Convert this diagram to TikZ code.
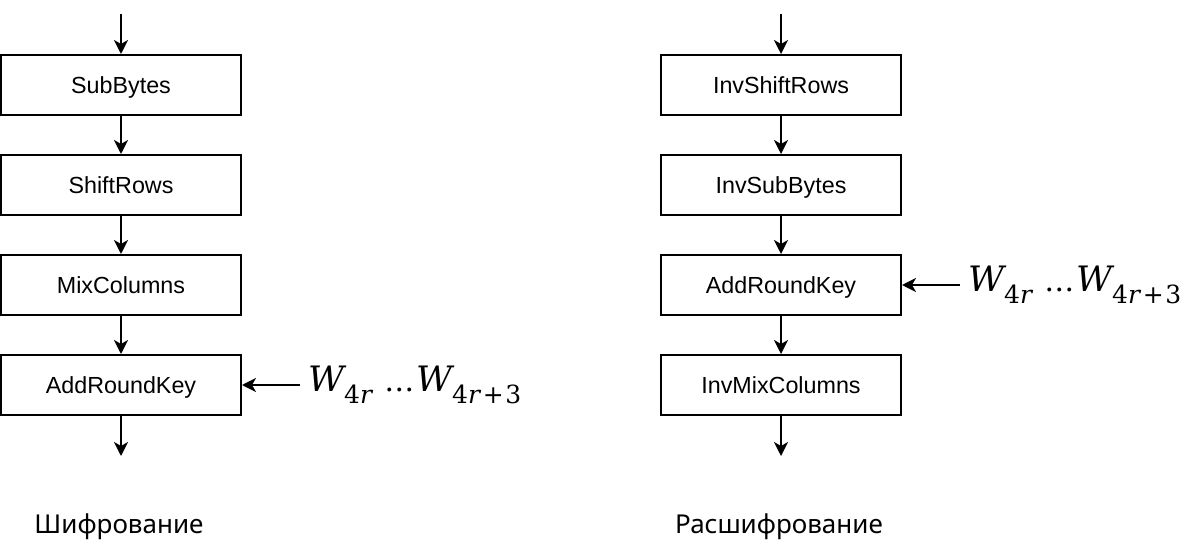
\documentclass[tikz,border=0pt]{standalone}
\usepackage{fontspec}
\setmainfont{Liberation Sans}
\newfontfamily\labfont{Noto Sans}
\newfontfamily\wfont{DejaVu Serif}
\usetikzlibrary{arrows.meta}
\newcommand{\wsub}[1]{{\itshape W}\raisebox{-12pt}{\fontsize{25}{25}\selectfont #1}}
\newcommand{\keyexpr}{\wsub{4\textit{r}}\kern11pt{\fontsize{30}{30}\selectfont …}\kern2pt\wsub{4\textit{r}\kern1.5pt+\kern1.5pt3}}
\begin{document}
\begin{tikzpicture}[x=1pt,y=-1pt,
  box/.style={draw, line width=2pt, minimum width=240pt, minimum height=60pt, inner sep=0pt, text height=16.5pt, text depth=0pt, font=\fontsize{23.3}{26}\selectfont},
  arr/.style={line width=2pt, -{Stealth[length=14pt,width=14pt,inset=4pt]}},
  keytxt/.style={anchor=base west, inner sep=0pt, font=\wfont\fontsize{35}{40}\selectfont},
  captxt/.style={inner sep=0pt, font=\labfont\fontsize{26}{30}\selectfont}]
\useasboundingbox (0,0) rectangle (1192,556);
% left column
\node[box] (sb) at (121,85) {SubBytes};
\node[box] (sr) at (121,185) {ShiftRows};
\node[box] (mc) at (121,285) {MixColumns};
\node[box] (ak) at (121,385) {AddRoundKey};
\coordinate (lt) at (121,14);
\coordinate (lb) at (121,456);
\draw[arr] (lt) -- (sb.north);
\draw[arr] (sb.south) -- (sr.north);
\draw[arr] (sr.south) -- (mc.north);
\draw[arr] (mc.south) -- (ak.north);
\draw[arr] (ak.south) -- (lb);
\node[keytxt] (kl) at (308,391) {\keyexpr};
\coordinate (kls) at (300,385);
\draw[arr] (kls) -- (ak.east);
\node[captxt] (cl) at (119,527) {Шифрование};
% right column
\node[box] (isr) at (781,85) {InvShiftRows};
\node[box] (isb) at (781,185) {InvSubBytes};
\node[box] (rak) at (781,285) {AddRoundKey};
\node[box] (imc) at (781,385) {InvMixColumns};
\coordinate (rt) at (781,14);
\coordinate (rb) at (781,456);
\draw[arr] (rt) -- (isr.north);
\draw[arr] (isr.south) -- (isb.north);
\draw[arr] (isb.south) -- (rak.north);
\draw[arr] (rak.south) -- (imc.north);
\draw[arr] (imc.south) -- (rb);
\node[keytxt] (kr) at (968,291) {\keyexpr};
\coordinate (krs) at (960,285);
\draw[arr] (krs) -- (rak.east);
\node[captxt] (cr) at (779,527) {Расшифрование};
\end{tikzpicture}
\end{document}
